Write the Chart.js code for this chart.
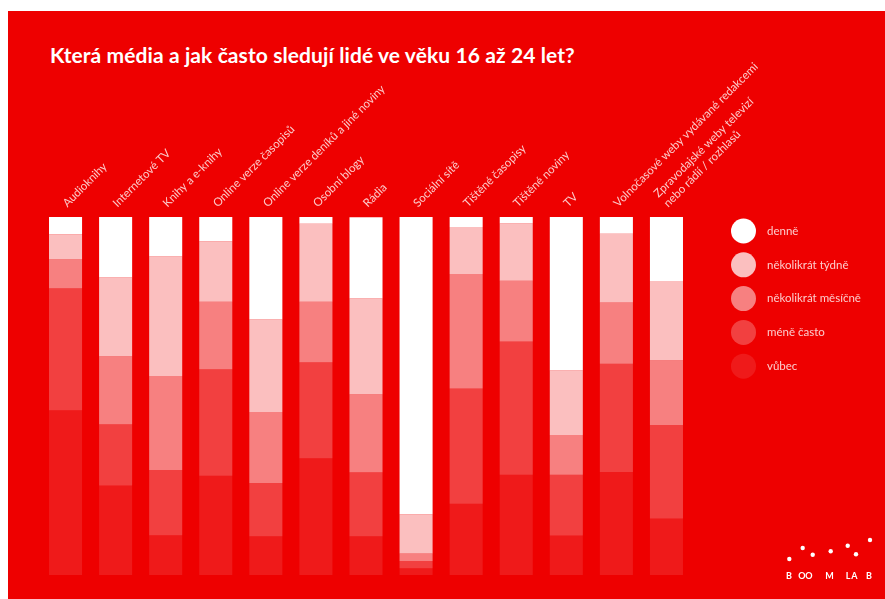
<!DOCTYPE html>
<html lang="cs">
<head>
<meta charset="utf-8">
<title>Která média a jak často sledují lidé ve věku 16 až 24 let?</title>
<script src="https://cdn.jsdelivr.net/npm/chart.js@4/dist/chart.umd.min.js"></script>
<style>
    body {
        margin: 0;
        background: #fff;
        font-family: Lato, "Open Sans", sans-serif;
    }
    #wrap {
        position: absolute;
        left: 8px;
        top: 11px;
        width: 877px;
        height: 588px;
        background: #ee0000;
    }
    #title {
        position: absolute;
        left: 42px;
        top: 34px;
        margin: 0;
        font-size: 21px;
        line-height: 20px;
        font-weight: 700;
        letter-spacing: 0.1px;
        color: #fff;
        white-space: nowrap;
    }
    #chart {
        position: absolute;
        left: 0;
        top: 0;
    }
</style>
</head>
<body>
<div id="wrap">
    <h1 id="title">Která média a jak často sledují lidé ve věku 16 až 24 let?</h1>
    <canvas id="chart" width="877" height="588"></canvas>
</div>

<script>
// Media categories (x axis)
const categories = [
    'Audioknihy',
    'Internetové TV',
    'Knihy a e-knihy',
    'Online verze časopisů',
    'Online verze deníků a jiné noviny',
    'Osobní blogy',
    'Rádia',
    'Sociální sítě',
    'Tištěné časopisy',
    'Tištěné noviny',
    'TV',
    'Volnočasové weby vydávané redakcemi',
    ['Zpravodajské weby televizí', 'nebo rádií / rozhlasů']
];

// Share of respondents in %
const denne     = [4.8, 17.0, 11.1, 6.8, 28.6, 1.9, 22.7, 83.1, 2.8, 1.9, 43.0, 4.8, 17.9];
const tydne     = [7.0, 22.0, 33.4, 16.9, 25.9, 21.8, 26.7, 11.0, 13.1, 16.0, 18.0, 19.2, 22.1];
const mesicne   = [8.1, 19.0, 26.3, 18.8, 19.8, 16.9, 21.8, 2.1, 32.0, 17.0, 11.1, 17.1, 18.1];
const meneCasto = [34.1, 17.1, 18.2, 29.8, 14.9, 26.8, 17.9, 2.0, 32.2, 37.2, 17.0, 30.2, 26.1];
const vubec     = [46.0, 25.0, 11.1, 27.7, 10.8, 32.6, 10.8, 1.9, 19.9, 28.0, 11.0, 28.8, 15.8];

const seriesLabels = ['denně', 'několikrát týdně', 'několikrát měsíčně', 'méně často', 'vůbec'];
const seriesData = [denne, tydne, mesicne, meneCasto, vubec];
const seriesColors = [
    'rgba(255, 255, 255, 1)',
    'rgba(255, 255, 255, 0.75)',
    'rgba(255, 255, 255, 0.5)',
    'rgba(255, 255, 255, 0.25)',
    'rgba(255, 255, 255, 0.1)'
];

// stacked bars start with dataset 0 at the bottom, so "vůbec" goes first
const datasets = seriesLabels.map((label, i) => ({
    label: label,
    data: seriesData[i],
    backgroundColor: seriesColors[i],
    borderWidth: 0,
    categoryPercentage: 1,
    barPercentage: 0.66
})).reverse();

// Legend with big circles + Boom Lab mark
const sideLegend = {
    id: 'sideLegend',
    afterDraw(chart) {
        const ctx = chart.ctx;
        const items = chart.data.datasets.slice().reverse();
        ctx.save();
        ctx.font = '400 11.5px Lato, "Open Sans", sans-serif';
        ctx.textBaseline = 'middle';
        items.forEach((ds, i) => {
            const cy = 220 + i * 33.8;
            ctx.beginPath();
            ctx.arc(735.5, cy, 12.5, 0, Math.PI * 2);
            ctx.fillStyle = ds.backgroundColor;
            ctx.fill();
            ctx.fillStyle = 'rgba(255, 255, 255, 0.8)';
            ctx.fillText(ds.label, 759, cy);
        });

        // logo
        ctx.fillStyle = '#fff';
        const dots = [[781.3, 548], [794.7, 537], [804.7, 543.7], [822.7, 540.3], [839.7, 534.7], [848, 543.3], [862, 529]];
        dots.forEach(d => {
            ctx.beginPath();
            ctx.arc(d[0], d[1], 2.2, 0, Math.PI * 2);
            ctx.fill();
        });
        ctx.font = '700 9px Lato, sans-serif';
        ctx.textAlign = 'center';
        ctx.textBaseline = 'alphabetic';
        const letters = [['B', 781], ['O', 794], ['O', 801], ['M', 821.5], ['L', 840], ['A', 846.5], ['B', 861]];
        letters.forEach(l => ctx.fillText(l[0], l[1], 567.5));
        ctx.restore();
    }
};

const ctx = document.getElementById('chart').getContext('2d');
new Chart(ctx, {
    type: 'bar',
    data: {
        labels: categories,
        datasets: datasets
    },
    options: {
        responsive: false,
        animation: false,
        layout: {
            padding: { left: 32.5, right: 193.5, top: 0, bottom: 24 }
        },
        scales: {
            x: {
                position: 'top',
                stacked: true,
                grid: { display: false, drawTicks: false },
                border: { display: false },
                afterFit: function(scale) {
                    scale.height = 206;
                },
                ticks: {
                    autoSkip: false,
                    minRotation: 45,
                    maxRotation: 45,
                    padding: 7,
                    labelOffset: 9,
                    color: 'rgba(255, 255, 255, 0.8)',
                    font: { family: 'Lato, "Open Sans", sans-serif', size: 11.5, weight: '400' }
                }
            },
            y: {
                display: false,
                stacked: true,
                min: 0,
                max: 100
            }
        },
        plugins: {
            legend: { display: false },
            tooltip: { enabled: false }
        }
    },
    plugins: [sideLegend]
});
</script>
</body>
</html>
